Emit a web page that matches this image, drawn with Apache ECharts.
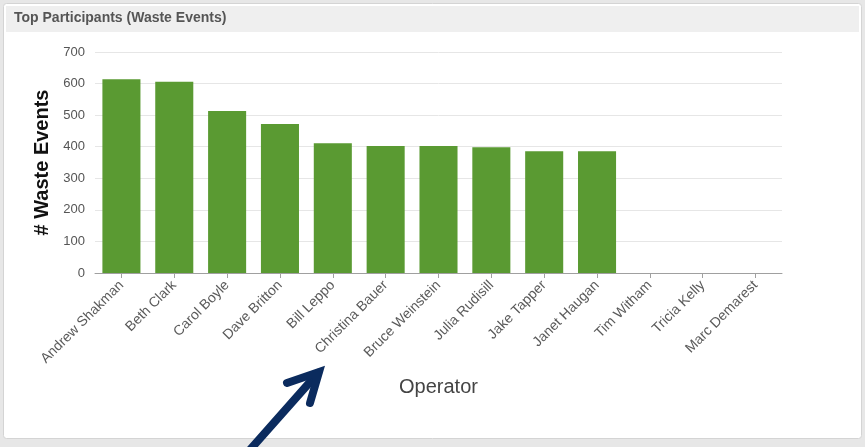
<!DOCTYPE html>
<html>
<head>
<meta charset="utf-8">
<script src="https://cdn.jsdelivr.net/npm/echarts@6/dist/echarts.min.js"></script>
<style>
  html, body { margin: 0; padding: 0; background: #e7e7e7; }
  #chart { width: 865px; height: 447px; }
</style>
</head>
<body>
<div id="chart"></div>
<script>
// Operators and their waste event counts
const operators = [
  'Andrew Shakman', 'Beth Clark', 'Carol Boyle', 'Dave Britton', 'Bill Leppo',
  'Christina Bauer', 'Bruce Weinstein', 'Julia Rudisill', 'Jake Tapper',
  'Janet Haugan', 'Tim Witham', 'Tricia Kelly', 'Marc Demarest'
];
const wasteEvents = [614, 606, 513, 472, 411, 402, 402, 398, 386, 386, null, null, null];
const yTicks = [0, 100, 200, 300, 400, 500, 600, 700];

const chart = echarts.init(document.getElementById('chart'), null, { renderer: 'canvas' });

const FONT = '"Liberation Sans", Arial, sans-serif';

const option = {
  backgroundColor: '#e7e7e7',
  animation: false,
  graphic: [
    // panel body
    {
      type: 'rect', z: -10,
      shape: { x: 3.5, y: 3.5, width: 858, height: 435, r: 3 },
      style: { fill: '#ffffff', stroke: '#d4d4d4', lineWidth: 1 }
    },
    // panel header strip
    {
      type: 'rect', z: -9,
      shape: { x: 6, y: 6, width: 853, height: 26 },
      style: { fill: '#efefef' }
    },
    {
      type: 'text', left: 14, top: 11, z: 5,
      style: {
        text: 'Top Participants (Waste Events)',
        font: 'bold 14px ' + FONT,
        fill: '#555555'
      }
    },
    // pointer arrow
    {
      type: 'polyline', z: 20,
      shape: { points: [[248, 452], [318, 373]] },
      style: { stroke: '#0b2b5e', lineWidth: 8, lineCap: 'round', fill: null }
    },
    {
      type: 'polyline', z: 20,
      shape: { points: [[287, 383], [319, 372], [310, 403]] },
      style: { stroke: '#0b2b5e', lineWidth: 8, lineCap: 'round', lineJoin: 'miter', fill: null }
    }
  ],
  grid: { left: 95, right: 83, top: 52, bottom: 174, containLabel: false },
  xAxis: {
    type: 'category',
    data: operators,
    axisLine: { lineStyle: { color: '#a0a0a0', width: 1 } },
    axisTick: { show: true, alignWithLabel: true, length: 5, lineStyle: { color: '#a0a0a0' } },
    axisLabel: {
      rotate: 45, interval: 0, margin: 10,
      color: '#5a5a5a', fontSize: 14,
      fontFamily: FONT
    },
    name: 'Operator',
    nameLocation: 'middle',
    nameGap: 104,
    nameTextStyle: { color: '#444444', fontSize: 20, fontFamily: FONT }
  },
  yAxis: {
    type: 'value',
    min: yTicks[0],
    max: yTicks[yTicks.length - 1],
    interval: 100,
    axisLine: { show: false },
    axisTick: { show: false },
    splitLine: { lineStyle: { color: '#e6e6e6', width: 1 } },
    axisLabel: {
      color: '#555555', fontSize: 13, margin: 10,
      fontFamily: FONT
    },
    name: '# Waste Events',
    nameLocation: 'middle',
    nameGap: 43,
    nameTextStyle: { color: '#111111', fontSize: 20, fontWeight: 'bold', fontFamily: FONT }
  },
  series: [{
    type: 'bar',
    data: wasteEvents,
    barWidth: '72%',
    itemStyle: { color: '#5a9a32' }
  }]
};

chart.setOption(option);
</script>
</body>
</html>
